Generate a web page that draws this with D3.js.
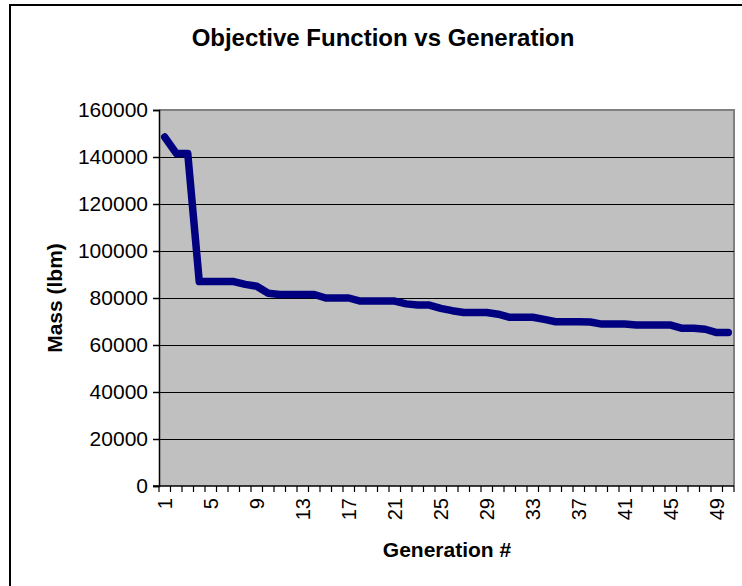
<!DOCTYPE html>
<html><head><meta charset="utf-8">
<script src="https://cdn.jsdelivr.net/npm/d3@7"></script>
<style>body{margin:0;background:#fff}svg{display:block}text{font-family:Arial,"Liberation Sans",sans-serif}</style>
</head><body>
<svg id="c" width="742" height="586"></svg>
<script>
const title = "Objective Function vs Generation";
const xTitle = "Generation #";
const yTitle = "Mass (lbm)";
const generations = d3.range(1, 51);
const mass = [148500, 141500, 141500, 87000, 87000, 87000, 87000, 85800, 85000, 82000,
  81500, 81500, 81500, 81500, 80000, 80000, 80000, 78700, 78700, 78700,
  78700, 77500, 77000, 77000, 75600, 74600, 73800, 73800, 73800, 73100,
  71800, 71800, 71800, 70900, 69900, 69900, 69900, 69800, 68900, 68900,
  68900, 68500, 68500, 68500, 68500, 67100, 67100, 66700, 65300, 65300];
const yTicks = [0, 20000, 40000, 60000, 80000, 100000, 120000, 140000, 160000];
const xTickLabels = generations.filter(g => (g - 1) % 4 === 0);

const svg = d3.select("#c");
const L = 159, R = 734, T = 110, B = 486;

// outer frame (clipped at right/bottom)
svg.append("path").attr("d", `M10,586 V5 H742`).attr("fill", "none").attr("stroke", "#000").attr("stroke-width", 2);

const x = d3.scaleBand().domain(generations).range([L, R]);
const y = d3.scaleLinear().domain([0, 160000]).range([B, T]);

// plot area
svg.append("rect").attr("x", L).attr("y", T).attr("width", R - L).attr("height", B - T).attr("fill", "#c0c0c0");
svg.append("path").attr("d", `M${L},${T} H${R} V${B}`).attr("fill", "none").attr("stroke", "#808080").attr("stroke-width", 2);

// gridlines
svg.append("g").selectAll("line").data(yTicks.filter(v => v > 0 && v < 160000)).join("line")
  .attr("x1", L).attr("x2", R).attr("y1", d => Math.round(y(d)) + 0.5).attr("y2", d => Math.round(y(d)) + 0.5)
  .attr("stroke", "#000").attr("stroke-width", 1);

// y axis
const yAxis = svg.append("g").attr("transform", `translate(${L},0)`)
  .call(d3.axisLeft(y).tickValues(yTicks).tickFormat(d3.format("d")).tickSize(6).tickPadding(5));
yAxis.select(".domain").attr("stroke", "#000").attr("stroke-width", 1.5);
yAxis.selectAll(".tick line").attr("stroke", "#000").attr("stroke-width", 1.5);
yAxis.selectAll("text").attr("font-size", 21).attr("fill", "#000").style("font-family", "Arial, 'Liberation Sans', sans-serif");

// x axis ticks between categories
const bounds = generations.map(g => x(g)).concat([R]);
svg.append("g").selectAll("line").data(bounds).join("line")
  .attr("x1", d => d).attr("x2", d => d).attr("y1", B).attr("y2", B + 6)
  .attr("stroke", "#000").attr("stroke-width", 1.2);
svg.append("line").attr("x1", L - 6).attr("x2", R).attr("y1", B).attr("y2", B).attr("stroke", "#000").attr("stroke-width", 1.5);

// x tick labels
svg.append("g").selectAll("text").data(xTickLabels).join("text")
  .attr("transform", d => `translate(${x(d) + x.bandwidth() / 2},498) rotate(-90)`)
  .attr("text-anchor", "end").attr("dy", "0.36em").attr("font-size", 20).text(d => d);

// line
const line = d3.line().x((d, i) => x(generations[i]) + x.bandwidth() / 2).y(d => y(d));
svg.append("path").datum(mass).attr("d", line).attr("fill", "none")
  .attr("stroke", "#000080").attr("stroke-width", 7.5).attr("stroke-linejoin", "round").attr("stroke-linecap", "round");

// titles
svg.append("text").attr("x", 383).attr("y", 46).attr("text-anchor", "middle")
  .attr("font-size", 24).attr("font-weight", "bold").text(title);
svg.append("text").attr("x", 447).attr("y", 557).attr("text-anchor", "middle")
  .attr("font-size", 21).attr("font-weight", "bold").text(xTitle);
svg.append("text").attr("transform", "translate(62,298) rotate(-90)").attr("text-anchor", "middle")
  .attr("font-size", 21).attr("font-weight", "bold").text(yTitle);
</script>
</body></html>
